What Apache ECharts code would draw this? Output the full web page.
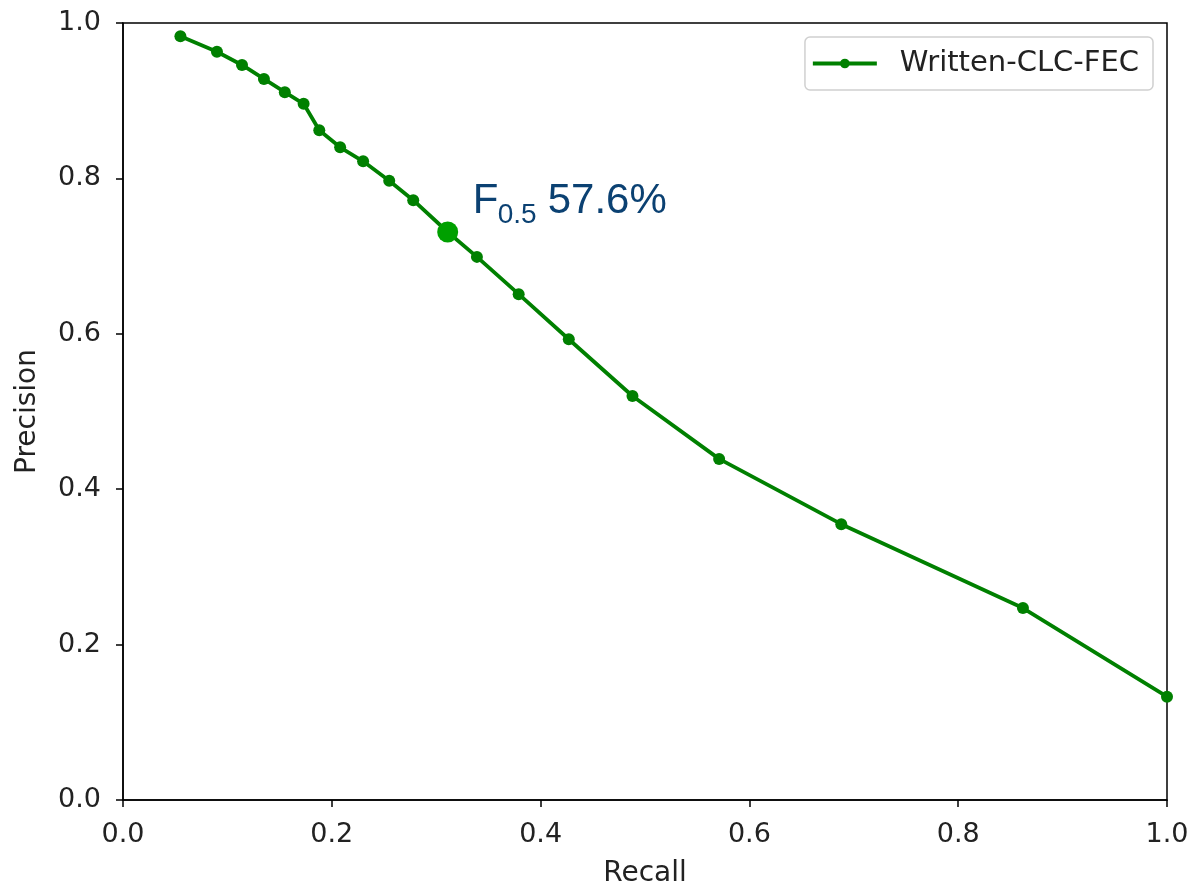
<!DOCTYPE html>
<html>
<head>
<meta charset="utf-8">
<script src="https://cdn.jsdelivr.net/npm/echarts@6/dist/echarts.min.js"></script>
<style>
  html, body { margin: 0; padding: 0; background: #fff; }
</style>
</head>
<body>
<div id="main" style="width:1191px;height:889px;"></div>
<script>
  // PR curve points
  const recall = [0.055, 0.090, 0.114, 0.135, 0.155, 0.173, 0.188, 0.208, 0.230, 0.255, 0.278, 0.311, 0.339, 0.379, 0.427, 0.488, 0.571, 0.688, 0.862, 1.0];
  const precision = [0.983, 0.963, 0.946, 0.928, 0.911, 0.896, 0.862, 0.840, 0.822, 0.797, 0.772, 0.731, 0.699, 0.651, 0.593, 0.520, 0.439, 0.355, 0.247, 0.133];
  const bestPoint = [0.311, 0.731];
  const bestLabel = { sub: '0.5', value: '57.6%' };
  const seriesName = 'Written-CLC-FEC';

  const chart = echarts.init(document.getElementById('main'));
  const font = 'DejaVu Sans';
  const blue = '#0b4172';

  chart.setOption({
    animation: false,
    textStyle: { fontFamily: font },
    grid: {
      left: 123, right: 24, top: 23, bottom: 89,
      outerBoundsMode: 'none',
      show: true, borderColor: '#000', borderWidth: 1.5
    },
    legend: {
      right: 38, top: 37,
      padding: [12, 14, 12, 6],
      borderColor: '#d0d0d0', borderWidth: 1.5, borderRadius: 5,
      itemWidth: 64, itemHeight: 12,
      lineStyle: { width: 3.8 },
      textStyle: { fontSize: 29, color: '#222', fontFamily: font, padding: [0, 0, 0, 18] },
      data: [seriesName]
    },
    xAxis: {
      type: 'value', min: 0, max: 1, interval: 0.2,
      name: 'Recall', nameLocation: 'middle', nameGap: 60,
      nameTextStyle: { fontSize: 28, color: '#222', fontFamily: font },
      axisLine: { show: true, lineStyle: { color: '#000', width: 1.5 } },
      axisTick: { show: true, inside: false, length: 7, lineStyle: { color: '#000', width: 1.5 } },
      axisLabel: { fontSize: 27, color: '#222', margin: 21, formatter: v => v.toFixed(1) },
      splitLine: { show: false }
    },
    yAxis: {
      type: 'value', min: 0, max: 1, interval: 0.2,
      name: 'Precision', nameLocation: 'middle', nameGap: 81,
      nameTextStyle: { fontSize: 28, color: '#222', fontFamily: font },
      axisLine: { show: true, lineStyle: { color: '#000', width: 1.5 } },
      axisTick: { show: true, inside: false, length: 7, lineStyle: { color: '#000', width: 1.5 } },
      axisLabel: { fontSize: 27, color: '#222', margin: 22, formatter: v => v.toFixed(1) },
      splitLine: { show: false }
    },
    series: [
      {
        name: seriesName,
        type: 'line',
        data: recall.map((r, i) => [r, precision[i]]),
        symbol: 'circle', symbolSize: 12,
        lineStyle: { color: '#008000', width: 3.8 },
        itemStyle: { color: '#008000' },
        clip: false,
        z: 2
      },
      {
        name: 'best',
        type: 'scatter',
        data: [bestPoint],
        symbolSize: 21,
        itemStyle: { color: '#00a000', opacity: 1 },
        z: 3
      }
    ]
  });

  // annotation next to the best point: F with subscript, then the score
  const p = chart.convertToPixel({ gridIndex: 0 }, bestPoint);
  const txt = (text, dx, dy, size) => ({
    type: 'text', x: p[0] + dx, y: p[1] + dy, z: 10,
    style: {
      text: text, fill: blue,
      font: size + 'px "Liberation Sans", Arial, sans-serif',
      textAlign: 'left', textVerticalAlign: 'bottom'
    }
  });
  chart.setOption({
    graphic: [
      txt('F', 25, -10, 42),
      txt(bestLabel.sub, 50, -3, 28),
      txt(bestLabel.value, 100, -10, 42)
    ]
  });
</script>
</body>
</html>
